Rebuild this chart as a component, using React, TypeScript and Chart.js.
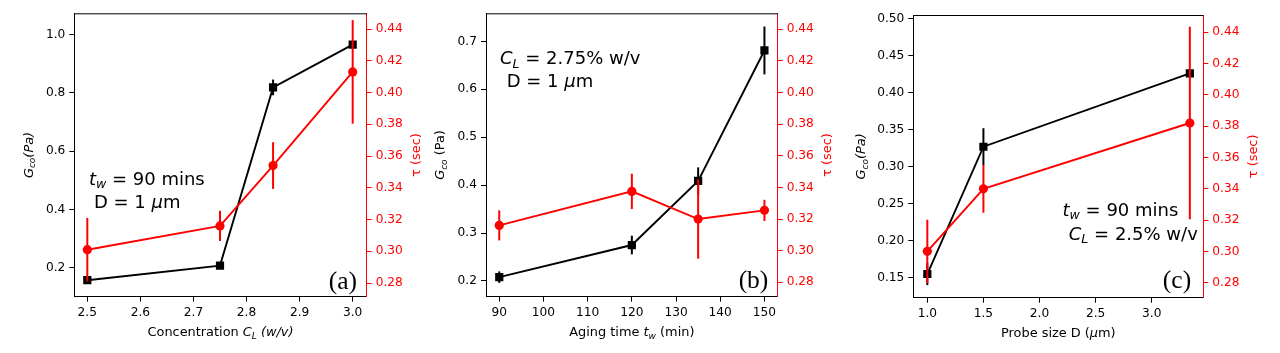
import React, { useEffect, useRef } from 'react';
import { Chart, registerables } from 'chart.js';

Chart.register(...registerables);

// ---------- Panel (a): concentration ----------
const A_X = [2.5, 2.75, 2.85, 3.0];
const A_G = [0.157, 0.207, 0.819, 0.966];
const A_G_ERR = [0.01, 0.006, 0.027, 0.01];
const A_TAU = [0.301, 0.316, 0.354, 0.413];
const A_TAU_ERR = [0.02, 0.0095, 0.0147, 0.0326];
const A_X_TICKS = [2.5, 2.6, 2.7, 2.8, 2.9, 3.0];
const A_Y_TICKS = [0.2, 0.4, 0.6, 0.8, 1.0];

// ---------- Panel (b): aging time ----------
const B_X = [90, 120, 135, 150];
const B_G = [0.208, 0.275, 0.409, 0.681];
const B_G_ERR = [0.012, 0.0195, 0.028, 0.05];
const B_TAU = [0.316, 0.3375, 0.32, 0.3255];
const B_TAU_ERR = [0.0095, 0.0112, 0.0251, 0.0067];
const B_X_TICKS = [90, 100, 110, 120, 130, 140, 150];
const B_Y_TICKS = [0.2, 0.3, 0.4, 0.5, 0.6, 0.7];

// ---------- Panel (c): probe size ----------
const C_X = [1.0, 1.5, 3.34];
const C_G = [0.155, 0.327, 0.426];
const C_G_ERR = [0.015, 0.025, 0.004];
const C_TAU = [0.3, 0.34, 0.382];
const C_TAU_ERR = [0.0202, 0.0153, 0.0615];
const C_X_TICKS = [1.0, 1.5, 2.0, 2.5, 3.0];
const C_Y_TICKS = [0.15, 0.2, 0.25, 0.3, 0.35, 0.4, 0.45, 0.5];

// shared right axis (tau) ticks
const TAU_TICKS = [0.28, 0.3, 0.32, 0.34, 0.36, 0.38, 0.4, 0.42, 0.44];

const SANS = '"DejaVu Sans"';
const SERIF = '"Liberation Serif"';
const RED = '#ff0000';
const BLACK = '#000000';
const TICK_SIZE = 12.2;
const TITLE_SIZE = 12.9;
const NOTE_SIZE = 18;
const LABEL_SIZE = 25.5;

type Seg = { t: string; it?: boolean; sub?: boolean; family?: string };
type TextItem = { segs: Seg[]; fx: number; fy: number; align: 'left' | 'center' | 'right'; size: number };

function drawRich(
  ctx: CanvasRenderingContext2D,
  segs: Seg[],
  x: number,
  y: number,
  size: number,
  color: string,
  align: 'left' | 'center' | 'right',
  rotate: boolean
) {
  ctx.save();
  ctx.fillStyle = color;
  ctx.textBaseline = 'middle';
  ctx.textAlign = 'left';
  const fonts = segs.map(
    (s) => `${s.it ? 'italic ' : ''}${s.sub ? size * 0.7 : size}px ${s.family || SANS}`
  );
  let total = 0;
  const widths = segs.map((s, i) => {
    ctx.font = fonts[i];
    const w = ctx.measureText(s.t).width;
    total += w;
    return w;
  });
  ctx.translate(x, y);
  if (rotate) ctx.rotate(-Math.PI / 2);
  let cx = align === 'left' ? 0 : align === 'center' ? -total / 2 : -total;
  segs.forEach((s, i) => {
    ctx.font = fonts[i];
    ctx.fillText(s.t, cx, s.sub ? size * 0.28 : 0);
    cx += widths[i];
  });
  ctx.restore();
}

interface PanelSpec {
  left: number;
  width: number;
  plotL: number;
  plotR: number;
  plotT: number;
  plotB: number;
  xs: number[];
  g: number[];
  gErr: number[];
  tau: number[];
  tauErr: number[];
  xMin: number;
  xMax: number;
  yMin: number;
  yMax: number;
  y2Min: number;
  y2Max: number;
  xTicks: number[];
  yTicks: number[];
  xDec: number;
  yDec: number;
  xTitle: Seg[];
  yTitle: Seg[];
  yTitleOff: number;
  texts: TextItem[];
}

const H = 353;

const PANELS: PanelSpec[] = [
  {
    left: 0,
    width: 430,
    plotL: 74.3,
    plotR: 366.7,
    plotT: 13.3,
    plotB: 296.7,
    xs: A_X,
    g: A_G,
    gErr: A_G_ERR,
    tau: A_TAU,
    tauErr: A_TAU_ERR,
    xMin: 2.4755,
    xMax: 3.0264,
    yMin: 0.1003,
    yMax: 1.0735,
    y2Min: 0.2714,
    y2Max: 0.4499,
    xTicks: A_X_TICKS,
    yTicks: A_Y_TICKS,
    xDec: 1,
    yDec: 1,
    xTitle: [
      { t: 'Concentration ' },
      { t: 'C', it: true },
      { t: 'L', it: true, sub: true },
      { t: ' (w/v)', it: true },
    ],
    yTitle: [
      { t: 'G', it: true },
      { t: 'co', it: true, sub: true },
      { t: '(Pa)', it: true },
    ],
    yTitleOff: 45,
    texts: [
      {
        segs: [{ t: 't', it: true }, { t: 'w', it: true, sub: true }, { t: ' = 90 mins' }],
        fx: 0.05,
        fy: 0.588,
        align: 'left',
        size: NOTE_SIZE,
      },
      {
        segs: [{ t: 'D = 1 ' }, { t: 'μ', it: true }, { t: 'm' }],
        fx: 0.067,
        fy: 0.669,
        align: 'left',
        size: NOTE_SIZE,
      },
      { segs: [{ t: '(a)', family: SERIF }], fx: 0.967, fy: 0.948, align: 'right', size: LABEL_SIZE },
    ],
  },
  {
    left: 430,
    width: 420,
    plotL: 56,
    plotR: 347.7,
    plotT: 13.3,
    plotB: 296.7,
    xs: B_X,
    g: B_G,
    gErr: B_G_ERR,
    tau: B_TAU,
    tauErr: B_TAU_ERR,
    xMin: 87,
    xMax: 153,
    yMin: 0.1672,
    yMax: 0.7585,
    y2Min: 0.2709,
    y2Max: 0.4501,
    xTicks: B_X_TICKS,
    yTicks: B_Y_TICKS,
    xDec: 0,
    yDec: 1,
    xTitle: [
      { t: 'Aging time ' },
      { t: 't', it: true },
      { t: 'w', it: true, sub: true },
      { t: ' (min)' },
    ],
    yTitle: [{ t: 'G', it: true }, { t: 'co', it: true, sub: true }, { t: ' (Pa)' }],
    yTitleOff: 45.2,
    texts: [
      {
        segs: [{ t: 'C', it: true }, { t: 'L', it: true, sub: true }, { t: ' = 2.75% w/v' }],
        fx: 0.048,
        fy: 0.162,
        align: 'left',
        size: NOTE_SIZE,
      },
      {
        segs: [{ t: 'D = 1 ' }, { t: 'μ', it: true }, { t: 'm' }],
        fx: 0.071,
        fy: 0.243,
        align: 'left',
        size: NOTE_SIZE,
      },
      { segs: [{ t: '(b)', family: SERIF }], fx: 0.968, fy: 0.947, align: 'right', size: LABEL_SIZE },
    ],
  },
  {
    left: 850,
    width: 430,
    plotL: 63.3,
    plotR: 353.3,
    plotT: 15,
    plotB: 297.7,
    xs: C_X,
    g: C_G,
    gErr: C_G_ERR,
    tau: C_TAU,
    tauErr: C_TAU_ERR,
    xMin: 0.875,
    xMax: 3.46,
    yMin: 0.123,
    yMax: 0.505,
    y2Min: 0.2704,
    y2Max: 0.451,
    xTicks: C_X_TICKS,
    yTicks: C_Y_TICKS,
    xDec: 1,
    yDec: 2,
    xTitle: [{ t: 'Probe size D (' }, { t: 'μ', it: true }, { t: 'm)' }],
    yTitle: [
      { t: 'G', it: true },
      { t: 'co', it: true, sub: true },
      { t: '(Pa)', it: true },
    ],
    yTitleOff: 51.6,
    texts: [
      {
        segs: [{ t: 't', it: true }, { t: 'w', it: true, sub: true }, { t: ' = 90 mins' }],
        fx: 0.914,
        fy: 0.693,
        align: 'right',
        size: NOTE_SIZE,
      },
      {
        segs: [{ t: 'C', it: true }, { t: 'L', it: true, sub: true }, { t: ' = 2.5% w/v' }],
        fx: 0.981,
        fy: 0.778,
        align: 'right',
        size: NOTE_SIZE,
      },
      { segs: [{ t: '(c)', family: SERIF }], fx: 0.958, fy: 0.943, align: 'right', size: LABEL_SIZE },
    ],
  },
];

function Panel({ spec }: { spec: PanelSpec }) {
  const ref = useRef<HTMLCanvasElement | null>(null);

  useEffect(() => {
    const canvas = ref.current;
    if (!canvas) return;

    const errorBars = {
      id: 'errorBars',
      beforeDatasetDraw(chart: any, args: any) {
        const ds: any = chart.data.datasets[args.index];
        const errs: number[] = ds.errors;
        if (!errs) return;
        const xs = chart.scales.x;
        const ys = chart.scales[ds.yAxisID];
        const ctx = chart.ctx as CanvasRenderingContext2D;
        ctx.save();
        ctx.strokeStyle = ds.borderColor;
        ctx.lineWidth = 2;
        ds.data.forEach((p: any, i: number) => {
          const px = xs.getPixelForValue(p.x);
          ctx.beginPath();
          ctx.moveTo(px, ys.getPixelForValue(p.y - errs[i]));
          ctx.lineTo(px, ys.getPixelForValue(p.y + errs[i]));
          ctx.stroke();
        });
        ctx.restore();
      },
    };

    const texts = {
      id: 'texts',
      afterDraw(chart: any) {
        const ctx = chart.ctx as CanvasRenderingContext2D;
        const a = chart.chartArea;
        // top spine
        ctx.save();
        ctx.strokeStyle = BLACK;
        ctx.lineWidth = 1;
        ctx.beginPath();
        ctx.moveTo(a.left, a.top + 0.5);
        ctx.lineTo(a.right, a.top + 0.5);
        ctx.stroke();
        ctx.restore();
        // axis titles
        drawRich(ctx, spec.xTitle, (a.left + a.right) / 2, a.bottom + 36, TITLE_SIZE, BLACK, 'center', false);
        drawRich(ctx, spec.yTitle, a.left - spec.yTitleOff, (a.top + a.bottom) / 2, TITLE_SIZE, BLACK, 'center', true);
        drawRich(ctx, [{ t: 'τ (sec)' }], a.right + 50, (a.top + a.bottom) / 2, TITLE_SIZE, RED, 'center', true);
        // annotations
        spec.texts.forEach((t) => {
          const x = a.left + t.fx * (a.right - a.left);
          const y = a.top + t.fy * (a.bottom - a.top);
          drawRich(ctx, t.segs, x, y, t.size, BLACK, t.align, false);
        });
      },
    };

    const tickFont = { family: SANS, size: TICK_SIZE };
    const setTicks = (vals: number[]) => (scale: any) => {
      scale.ticks = vals.map((v) => ({ value: v }));
    };

    const chart = new Chart(canvas, {
      type: 'line',
      data: {
        datasets: [
          {
            data: spec.xs.map((x, i) => ({ x, y: spec.g[i] })),
            errors: spec.gErr,
            yAxisID: 'y',
            borderColor: BLACK,
            backgroundColor: BLACK,
            pointBackgroundColor: BLACK,
            pointStyle: 'rect',
            pointRadius: 5.8,
            pointBorderWidth: 0,
            borderWidth: 1.9,
            tension: 0,
            order: 1,
          } as any,
          {
            data: spec.xs.map((x, i) => ({ x, y: spec.tau[i] })),
            errors: spec.tauErr,
            yAxisID: 'y2',
            borderColor: RED,
            backgroundColor: RED,
            pointBackgroundColor: RED,
            pointStyle: 'circle',
            pointRadius: 4.6,
            pointBorderWidth: 0,
            borderWidth: 1.9,
            tension: 0,
            order: 0,
          } as any,
        ],
      },
      options: {
        animation: false,
        responsive: false,
        maintainAspectRatio: false,
        events: [],
        layout: { padding: { top: spec.plotT, left: 0, right: 0, bottom: 0 } },
        plugins: { legend: { display: false }, tooltip: { enabled: false } },
        scales: {
          x: {
            type: 'linear',
            min: spec.xMin,
            max: spec.xMax,
            afterBuildTicks: setTicks(spec.xTicks),
            afterFit: (s: any) => {
              s.height = H - spec.plotB;
            },
            ticks: {
              color: BLACK,
              font: tickFont,
              padding: 4,
              maxRotation: 0,
              autoSkip: false,
              callback: (v: any) => Number(v).toFixed(spec.xDec),
            },
            grid: { display: true, drawOnChartArea: false, drawTicks: true, tickLength: 5, tickColor: BLACK, tickWidth: 1, color: BLACK },
            border: { display: true, color: BLACK, width: 1 },
          },
          y: {
            type: 'linear',
            position: 'left',
            min: spec.yMin,
            max: spec.yMax,
            afterBuildTicks: setTicks(spec.yTicks),
            afterFit: (s: any) => {
              s.width = spec.plotL;
            },
            ticks: {
              color: BLACK,
              font: tickFont,
              padding: 4,
              autoSkip: false,
              callback: (v: any) => Number(v).toFixed(spec.yDec),
            },
            grid: { display: true, drawOnChartArea: false, drawTicks: true, tickLength: 5, tickColor: BLACK, tickWidth: 1, color: BLACK },
            border: { display: true, color: BLACK, width: 1 },
          },
          y2: {
            type: 'linear',
            position: 'right',
            min: spec.y2Min,
            max: spec.y2Max,
            afterBuildTicks: setTicks(TAU_TICKS),
            afterFit: (s: any) => {
              s.width = spec.width - spec.plotR;
            },
            ticks: {
              color: RED,
              font: tickFont,
              padding: 4,
              autoSkip: false,
              callback: (v: any) => Number(v).toFixed(2),
            },
            grid: { display: true, drawOnChartArea: false, drawTicks: true, tickLength: 5, tickColor: RED, tickWidth: 1, color: RED },
            border: { display: true, color: RED, width: 1 },
          },
        },
      } as any,
      plugins: [errorBars, texts],
    });

    return () => chart.destroy();
  }, [spec]);

  return (
    <canvas
      ref={ref}
      width={spec.width}
      height={H}
      style={{ position: 'absolute', left: spec.left, top: 0, width: spec.width, height: H }}
    />
  );
}

export default function App() {
  return (
    <div style={{ position: 'absolute', left: 0, top: 0, width: 1280, height: H, background: '#fff' }}>
      {PANELS.map((p, i) => (
        <Panel key={i} spec={p} />
      ))}
    </div>
  );
}
